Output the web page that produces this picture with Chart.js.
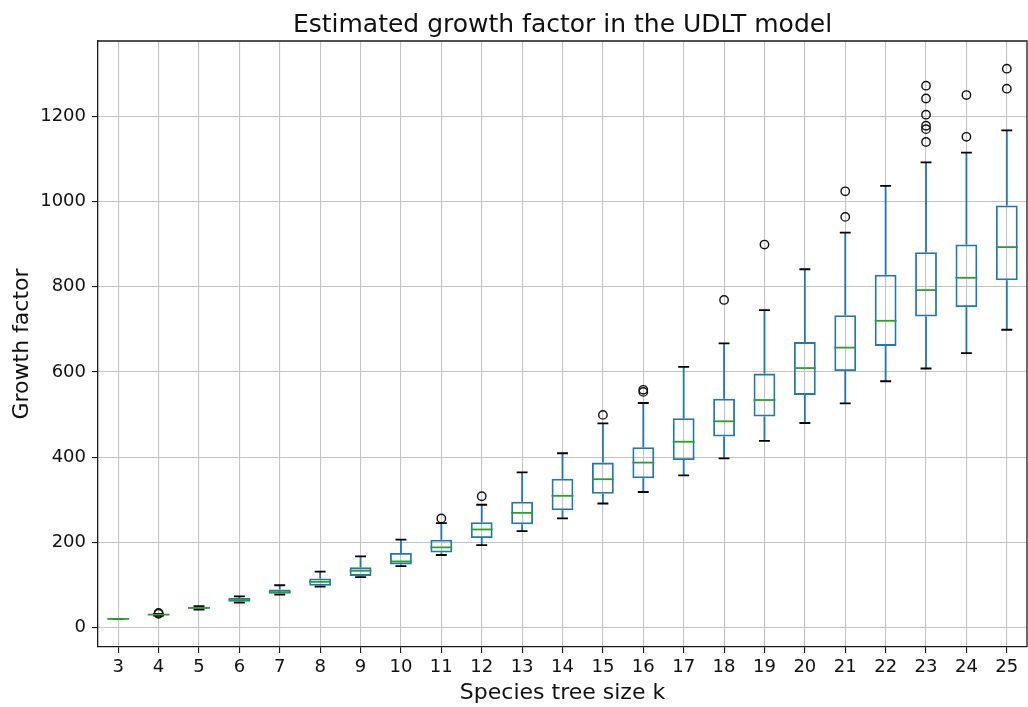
<!DOCTYPE html>
<html>
<head>
<meta charset="utf-8">
<title>Estimated growth factor in the UDLT model</title>
<script src="https://cdn.jsdelivr.net/npm/chart.js@4/dist/chart.umd.min.js"></script>
<style>
    html, body {
        margin: 0;
        padding: 0;
        background: #ffffff;
    }
    #wrap {
        width: 1028px;
        height: 707px;
    }
</style>
</head>
<body>
<div id="wrap">
    <canvas id="growthChart" width="1028" height="707"></canvas>
</div>
<script>

/*
 * Data
 */

const treeSizes = [
    "3", "4", "5", "6", "7", "8", "9", "10", "11", "12", "13", "14",
    "15", "16", "17", "18", "19", "20", "21", "22", "23", "24", "25"
];

const whiskerLow = [
    20, 28, 42, 58, 77, 96, 118, 144, 170, 193, 226, 256,
    291, 318, 357, 397, 438, 480, 526, 578, 608, 644, 699
];

const quartileLow = [
    20, 29, 44, 60, 79, 98, 121, 148, 176, 210, 242, 275,
    314, 350, 393, 448, 495, 546, 602, 661, 730, 752, 815
];

const medians = [
    20, 30, 46, 65, 83, 107, 133, 155, 188, 230, 269, 309,
    348, 387, 436, 484, 534, 609, 657, 720, 792, 821, 893
];

const quartileHigh = [
    20, 31, 48, 69, 89, 115, 141, 175, 206, 247, 295, 349,
    387, 423, 491, 537, 596, 670, 733, 828, 881, 899, 991
];

const whiskerHigh = [
    20, 32, 50, 73, 99, 131, 167, 206, 245, 288, 364, 409,
    479, 527, 612, 667, 745, 841, 927, 1037, 1092, 1115, 1167
];

const outliers = [
    [], [32, 34], [], [], [], [], [], [], [256], [308], [], [],
    [499], [553, 558], [], [769], [899], [], [964, 1024], [],
    [1140, 1170, 1178, 1204, 1242, 1272], [1152, 1250], [1265, 1312]
];

const yTicks = [0, 200, 400, 600, 800, 1000, 1200];


document.addEventListener(

    "DOMContentLoaded",

    () => {

        const font = "'DejaVu Sans', 'Liberation Sans', sans-serif";

        const boxes =
            treeSizes.map(
                (k, i) => [quartileLow[i], quartileHigh[i]]
            );

        const fliers = [];

        treeSizes.forEach(
            (k, i) => outliers[i].forEach(
                v => fliers.push({ x: k, y: v })
            )
        );


        /*
         * Whiskers, caps, medians and the top / right frame
         */

        const boxParts = {

            id: "boxParts",

            afterDatasetsDraw(chart) {

                const ctx = chart.ctx;
                const yScale = chart.scales.y;
                const meta = chart.getDatasetMeta(0);

                ctx.save();

                meta.data.forEach(
                    (bar, i) => {

                        const x = bar.x;
                        const half = bar.width / 2;
                        const cap = bar.width / 4;

                        const yWl = yScale.getPixelForValue(whiskerLow[i]);
                        const yQl = yScale.getPixelForValue(quartileLow[i]);
                        const yMd = yScale.getPixelForValue(medians[i]);
                        const yQh = yScale.getPixelForValue(quartileHigh[i]);
                        const yWh = yScale.getPixelForValue(whiskerHigh[i]);

                        // whiskers
                        ctx.strokeStyle = "#1f77b4";
                        ctx.lineWidth = 1.8;
                        ctx.beginPath();
                        ctx.moveTo(x, yQh);
                        ctx.lineTo(x, yWh);
                        ctx.moveTo(x, yQl);
                        ctx.lineTo(x, yWl);
                        ctx.stroke();

                        // caps
                        ctx.strokeStyle = "#000000";
                        ctx.beginPath();
                        ctx.moveTo(x - cap, yWh);
                        ctx.lineTo(x + cap, yWh);
                        ctx.moveTo(x - cap, yWl);
                        ctx.lineTo(x + cap, yWl);
                        ctx.stroke();

                        // median
                        ctx.strokeStyle = "#2ca02c";
                        ctx.beginPath();
                        ctx.moveTo(x - half, yMd);
                        ctx.lineTo(x + half, yMd);
                        ctx.stroke();

                    }
                );

                ctx.restore();

            },

            afterDraw(chart) {

                const { ctx, chartArea } = chart;

                ctx.save();
                ctx.strokeStyle = "#1a1a1a";
                ctx.lineWidth = 1.3;
                ctx.beginPath();
                ctx.moveTo(chartArea.left, chartArea.top);
                ctx.lineTo(chartArea.right, chartArea.top);
                ctx.lineTo(chartArea.right, chartArea.bottom);
                ctx.stroke();
                ctx.restore();

            }

        };


        /*
         * Chart
         */

        new Chart(

            document.getElementById("growthChart"),

            {

                type: "bar",

                data: {

                    labels: treeSizes,

                    datasets: [

                        {
                            label: "box",
                            data: boxes,
                            backgroundColor: "rgba(0,0,0,0)",
                            borderColor: "#1f77b4",
                            borderWidth: 1.8,
                            borderSkipped: false,
                            categoryPercentage: 1,
                            barPercentage: 0.54,
                            grouped: false
                        },

                        {
                            type: "scatter",
                            label: "fliers",
                            data: fliers,
                            pointStyle: "circle",
                            pointRadius: 4.2,
                            pointBorderWidth: 1.4,
                            pointBorderColor: "#111111",
                            pointBackgroundColor: "rgba(0,0,0,0)"
                        }

                    ]

                },

                options: {

                    responsive: false,
                    animation: false,
                    events: [],

                    layout: {
                        autoPadding: false,
                        padding: { top: 0, left: 0, right: 1, bottom: 0 }
                    },

                    plugins: {

                        legend: { display: false },
                        tooltip: { enabled: false },

                        title: {
                            display: true,
                            text: "Estimated growth factor in the UDLT model",
                            fullSize: false,
                            color: "#111111",
                            font: { family: font, size: 25, weight: "normal", lineHeight: 1.2 },
                            padding: { top: 10, bottom: 1 }
                        }

                    },

                    scales: {

                        x: {
                            offset: true,
                            grid: {
                                offset: false,
                                color: "#c4c4c4",
                                lineWidth: 1.1,
                                tickColor: "#1a1a1a",
                                tickLength: 6
                            },
                            border: { color: "#1a1a1a", width: 1.3 },
                            ticks: {
                                color: "#111111",
                                font: { family: font, size: 18 },
                                padding: 4,
                                maxRotation: 0,
                                autoSkip: false
                            },
                            title: {
                                display: true,
                                text: "Species tree size k",
                                color: "#111111",
                                font: { family: font, size: 22, lineHeight: 1.2 },
                                padding: { top: 0, bottom: 1 }
                            },
                            afterFit: axis => { axis.height = 60; }
                        },

                        y: {
                            min: -46,
                            max: 1377,
                            grid: {
                                color: "#c4c4c4",
                                lineWidth: 1.1,
                                tickColor: "#1a1a1a",
                                tickLength: 6
                            },
                            border: { color: "#1a1a1a", width: 1.3 },
                            ticks: {
                                stepSize: 200,
                                color: "#111111",
                                font: { family: font, size: 18 },
                                padding: 6,
                                callback: v => String(v)
                            },
                            afterBuildTicks: axis => {
                                axis.ticks = yTicks.map(v => ({ value: v }));
                            },
                            title: {
                                display: true,
                                text: "Growth factor",
                                color: "#111111",
                                font: { family: font, size: 22, lineHeight: 1.2 },
                                padding: { top: 9, bottom: 0 }
                            },
                            afterFit: axis => { axis.width = 98; }
                        }

                    }

                },

                plugins: [boxParts]

            }

        );

    }

);

</script>
</body>
</html>
